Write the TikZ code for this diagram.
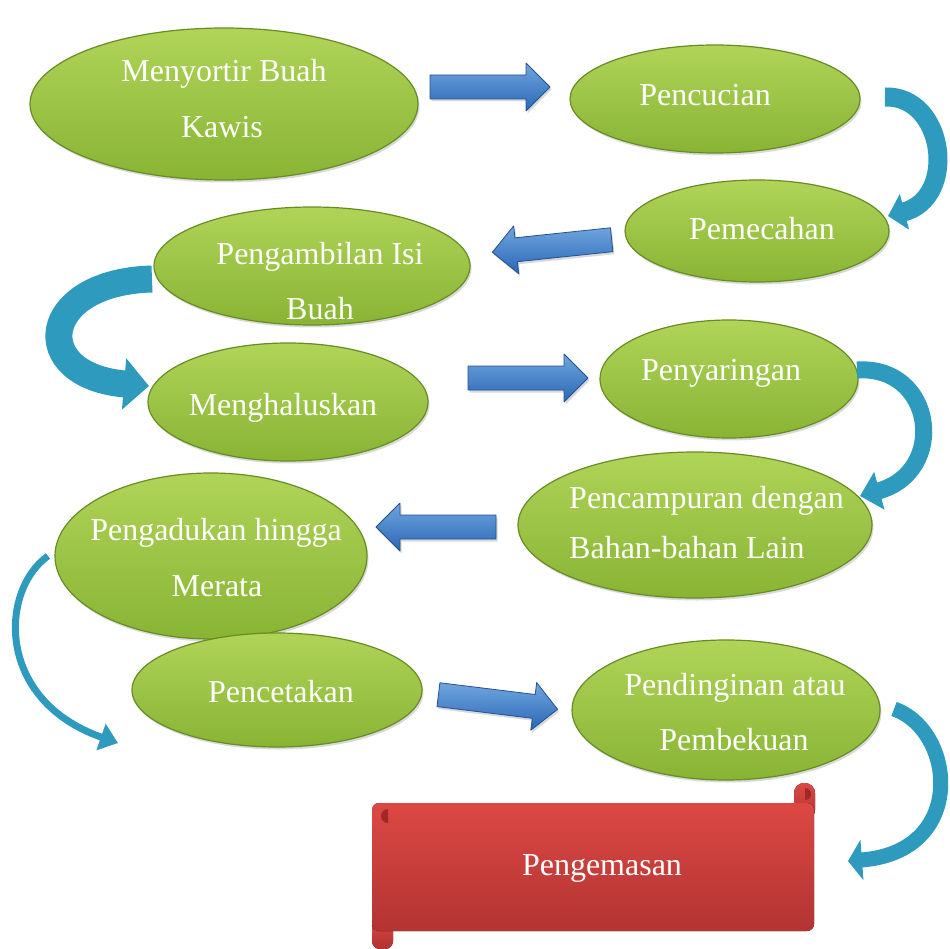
\documentclass[tikz,border=0pt]{standalone}
\usepackage{fontspec}
\setmainfont{Liberation Serif}
\usetikzlibrary{shapes.geometric,arrows.meta,shadows}
\definecolor{gtop}{RGB}{176,212,88}
\definecolor{gbot}{RGB}{136,180,52}
\definecolor{grim}{RGB}{104,140,36}
\definecolor{btop}{RGB}{112,166,222}
\definecolor{bbot}{RGB}{42,102,182}
\definecolor{brim}{RGB}{36,82,142}
\definecolor{tealc}{RGB}{46,154,190}
\definecolor{rtop}{RGB}{220,72,68}
\definecolor{rbot}{RGB}{178,52,50}
\definecolor{rdark}{RGB}{160,40,38}
\begin{document}
\begin{tikzpicture}[x=1pt,y=-1pt,
  ell/.style={ellipse, draw=grim, line width=1.2pt, top color=gtop, bottom color=gbot,
    inner sep=0pt, drop shadow={shadow xshift=1.5pt,shadow yshift=-2.5pt,opacity=0.3}},
  lbl/.style={text=white, font=\fontsize{32}{38}\selectfont, inner sep=0pt, anchor=base},
  lblw/.style={lbl, anchor=base west},
  curv/.style={draw=tealc, line cap=butt},
  barrow/.pic={\draw[brim, line width=0.8pt, top color=btop, bottom color=bbot, line join=round,
      drop shadow={shadow xshift=1.5pt,shadow yshift=-2.5pt,opacity=0.3}]
      (-60,-12) -- (36,-12) -- (36,-24) -- (60,0) -- (36,24) -- (36,12) -- (-60,12) -- cycle;}
]
\useasboundingbox (0,0) rectangle (950,949);

% ellipses
\node[ell, minimum width=388pt, minimum height=152pt] (e1) at (224,104) {};
\node[ell, minimum width=290pt, minimum height=108pt] (e2) at (715,99) {};
\node[ell, minimum width=264pt, minimum height=102pt] (e3) at (757,231) {};
\node[ell, minimum width=316pt, minimum height=118pt] (e4) at (312,266) {};
\node[ell, minimum width=280pt, minimum height=118pt] (e5) at (288,402) {};
\node[ell, minimum width=258pt, minimum height=118pt] (e6) at (729,379) {};
\node[ell, minimum width=354pt, minimum height=146pt] (e7) at (695,525) {};
\node[ell, minimum width=312pt, minimum height=166pt] (e8) at (211,556) {};
\node[ell, minimum width=290pt, minimum height=114pt] (e9) at (277,690) {};
\node[ell, minimum width=308pt, minimum height=140pt] (e10) at (726,710) {};

% scroll
\begin{scope}[drop shadow={shadow xshift=1.5pt,shadow yshift=-2.5pt,opacity=0.3}]
\fill[top color=rtop, bottom color=rbot, rounded corners=8pt] (372,915) rectangle (393,949);
\fill[top color=rtop, bottom color=rbot, rounded corners=10pt] (794,783) rectangle (815,820);
\end{scope}
\fill[top color=rtop, bottom color=rbot, rounded corners=7pt] (372,803) rectangle (814,931);
\fill[rdark] (388,809) arc[start angle=90,end angle=270,radius=7pt] -- cycle;
\fill[rdark] (805,788) arc[start angle=90,end angle=-90,radius=6pt] -- cycle;

% labels
\node[lbl] (t1a) at (224,82) {Menyortir Buah};
\node[lbl] (t1b) at (222,138) {Kawis};
\node[lbl] (t2) at (705,106) {Pencucian};
\node[lbl] (t3) at (762,240) {Pemecahan};
\node[lbl] (t4a) at (320,265) {Pengambilan Isi};
\node[lbl] (t4b) at (320,320) {Buah};
\node[lbl] (t5) at (283,415) {Menghaluskan};
\node[lbl] (t6) at (721,381) {Penyaringan};
\node[lblw] (t7a) at (569,508) {Pencampuran dengan};
\node[lblw] (t7b) at (569,558) {Bahan-bahan Lain};
\node[lbl] (t8a) at (216,540) {Pengadukan hingga};
\node[lbl] (t8b) at (217,596) {Merata};
\node[lbl] (t9) at (281,702) {Pencetakan};
\node[lbl] (t10a) at (735,695) {Pendinginan atau};
\node[lbl] (t10b) at (734,750) {Pembekuan};
\node[lbl] (t11) at (602,875) {Pengemasan};

% straight block arrows
\pic at (490,87) {barrow};
\pic[rotate=186] at (552,246) {barrow};
\pic at (528,378) {barrow};
\pic[rotate=180] at (436,527) {barrow};
\pic[rotate=-7] at (498,702) {barrow};

% curved arrows
\coordinate (c1s) at (885,97);
\coordinate (c1e) at (888,216);
\coordinate (c2s) at (152,279);
\coordinate (c2e) at (149,386);
\coordinate (c3s) at (48,556);
\coordinate (c3e) at (118,743);
\coordinate (c4s) at (857,370);
\coordinate (c4e) at (860,496);
\coordinate (c5s) at (894,709);
\coordinate (c5e) at (848,861);
\begin{scope}[drop shadow={shadow xshift=1.5pt,shadow yshift=-2.5pt,opacity=0.25}]
\draw[curv, line width=19pt, -{Triangle[length=17pt,width=36pt]}]
  (c1s) .. controls (945,95) and (958,198) .. (c1e);
\draw[curv, line width=27pt, -{Triangle[length=25pt,width=50pt]}]
  (c2s) .. controls (38,282) and (28,376) .. (c2e);
\draw[curv, line width=7pt, -{Triangle[length=18pt,width=27pt]}]
  (c3s) .. controls (0,590) and (-5,700) .. (c3e);
\draw[curv, line width=17pt, -{Triangle[length=20pt,width=38pt]}]
  (c4s) .. controls (935,365) and (948,472) .. (c4e);
\draw[curv, line width=15pt, -{Triangle[length=14pt,width=40pt]}]
  (c5s) .. controls (955,730) and (968,852) .. (c5e);
\end{scope}
\end{tikzpicture}
\end{document}
